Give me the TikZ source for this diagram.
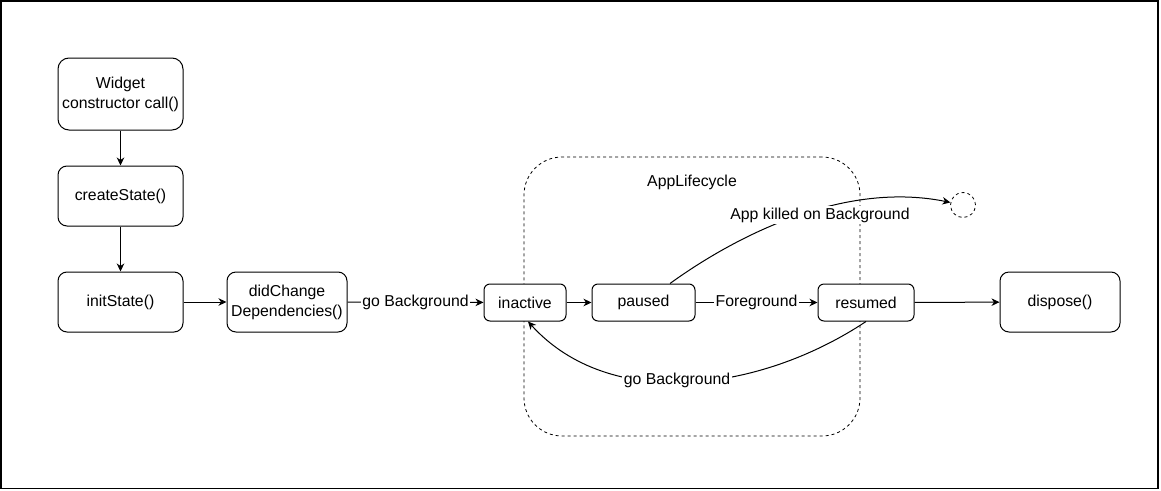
\documentclass[tikz,border=0pt]{standalone}
\usepackage{fontspec}
\setmainfont{Liberation Sans}
\usetikzlibrary{arrows.meta}
\begin{document}
\begin{tikzpicture}[x=1pt,y=-1pt,
  txt/.style={font=\fontsize{15.8}{20}\selectfont},
  box/.style={txt,draw,fill=white,rounded corners=9pt,line width=1pt,align=center,inner sep=0pt},
  smallbox/.style={box,rounded corners=6pt,minimum height=37pt},
  bigbox/.style={box,minimum height=60pt},
  container/.style={draw,dashed,dash pattern=on 3pt off 3pt,line width=0.8pt,rounded corners=38pt,inner sep=0pt},
  lbl/.style={txt,fill=white,inner sep=1.5pt},
  arr/.style={line width=1pt,-{Stealth[length=8pt,width=7.5pt,inset=2.5pt]}},
]
\useasboundingbox (0,0) rectangle (1161,490);
\draw[line width=1.5pt] (0.75,0.75) rectangle (1158,488.5);

\node[container,minimum width=336pt,minimum height=279pt] (app) at (692,296.5) {};
\node[txt] (applbl) at (692,182) {AppLifecycle};

\node[box,minimum width=125pt,minimum height=72pt,rounded corners=11pt] (widget) at (120.5,94) {Widget\\constructor call()};
\node[bigbox,minimum width=125pt] (create) at (120.5,196) {createState()};
\node[bigbox,minimum width=125pt] (init) at (120.5,302) {initState()};
\node[bigbox,minimum width=120pt] (did) at (287,302) {didChange\\Dependencies()};
\node[smallbox,minimum width=82pt] (inactive) at (525,302.5) {inactive};
\node[smallbox,minimum width=103pt] (paused) at (643.5,302.5) {paused};
\node[smallbox,minimum width=96pt] (resumed) at (866,302.5) {resumed};
\node[bigbox,minimum width=120pt] (dispose) at (1060,302) {dispose()};
\node[draw,dashed,dash pattern=on 3pt off 3pt,line width=0.8pt,circle,minimum size=25pt,inner sep=0pt] (end) at (963,205) {};

\draw[arr] (widget) -- (create);
\draw[arr] (create) -- (init);
\draw[arr] (init) -- (did);
\draw[arr] (did) -- node[lbl] (gb1) {go Background} (inactive);
\draw[arr] (inactive) -- (paused);
\draw[arr] (paused) -- node[lbl] (fg) {Foreground} (resumed);
\draw[arr] (resumed) -- (dispose);
\draw[arr] ([xshift=26.5pt]paused.north) .. controls (730,240) and (840,180) .. (end)
  node[lbl] (kill) at (820,215) {App killed on Background};
\draw[arr] (resumed.south) .. controls (760,392) and (610,412) .. ([xshift=3pt]inactive.south)
  node[lbl] (gb2) at (677,380) {go Background};
\end{tikzpicture}
\end{document}
